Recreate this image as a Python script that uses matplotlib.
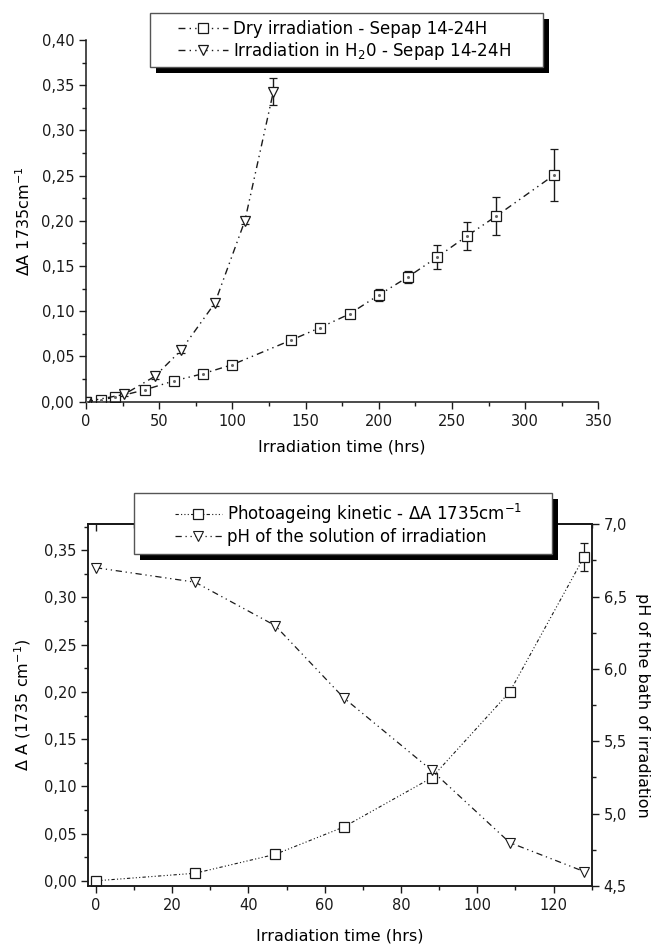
import matplotlib
matplotlib.use("Agg")
import matplotlib.pyplot as plt
from matplotlib.patches import Rectangle
from matplotlib.ticker import MultipleLocator, FuncFormatter

# top panel data
dry_t = [0, 10, 20, 40, 60, 80, 100, 140, 160, 180, 200, 220, 240, 260, 280, 320]
dry_a = [0.0, 0.002, 0.005, 0.013, 0.023, 0.031, 0.041, 0.068, 0.082, 0.097,
         0.118, 0.138, 0.160, 0.183, 0.205, 0.251]
dry_err = [0.001, 0.001, 0.002, 0.002, 0.002, 0.003, 0.002, 0.003, 0.002, 0.003,
           0.0065, 0.0065, 0.0135, 0.0155, 0.021, 0.029]

wet_t = [0, 26, 47, 65, 88, 108.5, 128]
wet_a = [0.0, 0.008, 0.028, 0.057, 0.109, 0.200, 0.343]
wet_err = [0.001, 0.002, 0.003, 0.003, 0.003, 0.004, 0.0145]

# bottom panel data
ph = [6.7, 6.6, 6.3, 5.8, 5.3, 4.8, 4.6]

plt.rcParams["font.family"] = ["DejaVu Sans"]
plt.rcParams["mathtext.default"] = "regular"

W, H = 655, 944
INK = "#1a1a1a"
DASH = (0, (5, 3, 1, 3, 1, 3))
DOTS = (0, (3, 2, 1, 2, 1, 2, 1, 2))
TICK_FS = 10.5
LABEL_FS = 11.5
LEG_FS = 12


def comma(fmt):
    return FuncFormatter(lambda v, p: fmt.format(v).replace(".", ","))


def style_axis(ax):
    for s in ax.spines.values():
        s.set_linewidth(1.1)
        s.set_color(INK)
    ax.tick_params(which="both", direction="out", colors=INK, labelsize=TICK_FS, width=1.0)
    ax.tick_params(which="major", length=5)
    ax.tick_params(which="minor", length=3)


def px_box(x0, y0, x1, y1):
    # pixel box (from top-left) -> figure fraction rect
    return [x0 / W, 1 - y1 / H, (x1 - x0) / W, (y1 - y0) / H]


def legend_frame(x0, y0, x1, y1, off=6):
    sx, sy, sw, sh = px_box(x0 + off, y0 + off, x1 + off, y1 + off)
    fig.patches.append(Rectangle((sx, sy), sw, sh, transform=fig.transFigure,
                                 facecolor="black", edgecolor="none", zorder=4))
    bx, by, bw, bh = px_box(x0, y0, x1, y1)
    fig.patches.append(Rectangle((bx, by), bw, bh, transform=fig.transFigure,
                                 facecolor="white", edgecolor="#555555", lw=1.0, zorder=4.1))


def centre_dots(ax, x, y):
    ax.plot(x, y, ls="none", marker="o", ms=1.2, color="#666666", zorder=3)


fig = plt.figure(figsize=(W / 100, H / 100), dpi=100)

# ---- top panel ----
ax1 = fig.add_axes(px_box(86, 40, 598.4, 401.7))
style_axis(ax1)
ax1.spines["top"].set_visible(False)
ax1.spines["right"].set_visible(False)

eb = dict(ecolor=INK, elinewidth=1.0, capsize=3.2, capthick=1.0)
h_dry = ax1.errorbar(dry_t, dry_a, yerr=dry_err, color=INK, ls=DASH, lw=1.0,
                     marker="s", ms=6.5, mfc="white", mec=INK, mew=0.9, **eb)
h_wet = ax1.errorbar(wet_t, wet_a, yerr=wet_err, color=INK, ls=DASH, lw=1.0,
                     marker="v", ms=7.5, mfc="white", mec=INK, mew=0.9, **eb)
centre_dots(ax1, dry_t, dry_a)

ax1.set_xlim(0, 350)
ax1.set_ylim(0, 0.40)
ax1.xaxis.set_major_locator(MultipleLocator(50))
ax1.xaxis.set_minor_locator(MultipleLocator(25))
ax1.yaxis.set_major_locator(MultipleLocator(0.05))
ax1.yaxis.set_minor_locator(MultipleLocator(0.025))
ax1.yaxis.set_major_formatter(comma("{:.2f}"))
ax1.set_xlabel("Irradiation time (hrs)", fontsize=LABEL_FS, labelpad=8)
ax1.set_ylabel("ΔA 1735cm$^{-1}$", fontsize=LABEL_FS, labelpad=6)

legend_frame(150, 13.3, 542.7, 66.7)
fig.legend([h_dry[0], h_wet[0]],
           ["Dry irradiation - Sepap 14-24H", "Irradiation in H$_2$0 - Sepap 14-24H"],
           loc="upper left", bbox_to_anchor=(178 / W, 1 - 19.5 / H), fontsize=LEG_FS,
           frameon=False, handlelength=3.0, handletextpad=0.3, borderpad=0,
           labelspacing=0.12, borderaxespad=0)

# ---- bottom panel ----
ax2 = fig.add_axes(px_box(88.3, 524.3, 591.7, 886))
ax3 = ax2.twinx()
style_axis(ax2)
style_axis(ax3)

h_kin = ax2.errorbar(wet_t, wet_a, yerr=wet_err, color=INK, ls=DOTS,
                     lw=0.8, marker="s", ms=6.5, mfc="white", mec=INK, mew=0.9,
                     ecolor=INK, elinewidth=0.9, capsize=3.2, capthick=0.9)
h_ph, = ax3.plot(wet_t, ph, color=INK, ls=DASH, lw=0.9,
                 marker="v", ms=7.5, mfc="white", mec=INK, mew=0.8)

ax2.set_xlim(-2, 130)
ax2.set_ylim(-0.0055, 0.3775)
ax3.set_ylim(4.5, 7.0)
ax2.xaxis.set_major_locator(MultipleLocator(20))
ax2.xaxis.set_minor_locator(MultipleLocator(10))
ax2.yaxis.set_major_locator(MultipleLocator(0.05))
ax2.yaxis.set_minor_locator(MultipleLocator(0.025))
ax2.yaxis.set_major_formatter(comma("{:.2f}"))
ax3.yaxis.set_major_locator(MultipleLocator(0.5))
ax3.yaxis.set_minor_locator(MultipleLocator(0.25))
ax3.yaxis.set_major_formatter(comma("{:.1f}"))

top = ax2.secondary_xaxis("top")
top.xaxis.set_major_locator(MultipleLocator(20))
top.xaxis.set_minor_locator(MultipleLocator(10))
top.tick_params(which="both", direction="in", labeltop=False, colors=INK, width=1.0)
top.tick_params(which="major", length=5)
top.tick_params(which="minor", length=3)
top.spines["top"].set_linewidth(1.1)

ax2.set_xlabel("Irradiation time (hrs)", fontsize=LABEL_FS, labelpad=11)
ax2.set_ylabel("Δ A (1735 cm$^{-1}$)", fontsize=LABEL_FS, labelpad=8)
ax3.set_ylabel("pH of the bath of irradiation", fontsize=LABEL_FS, rotation=270, labelpad=17)

legend_frame(134.3, 493.3, 551.7, 554)
fig.legend([h_kin[0], h_ph],
           ["Photoageing kinetic - ΔA 1735cm$^{-1}$", "pH of the solution of irradiation"],
           loc="upper left", bbox_to_anchor=(175 / W, 1 - 501.5 / H), fontsize=LEG_FS,
           frameon=False, handlelength=2.8, handletextpad=0.3, borderpad=0,
           labelspacing=0.15, borderaxespad=0)

fig.savefig("out.png", dpi=100)
